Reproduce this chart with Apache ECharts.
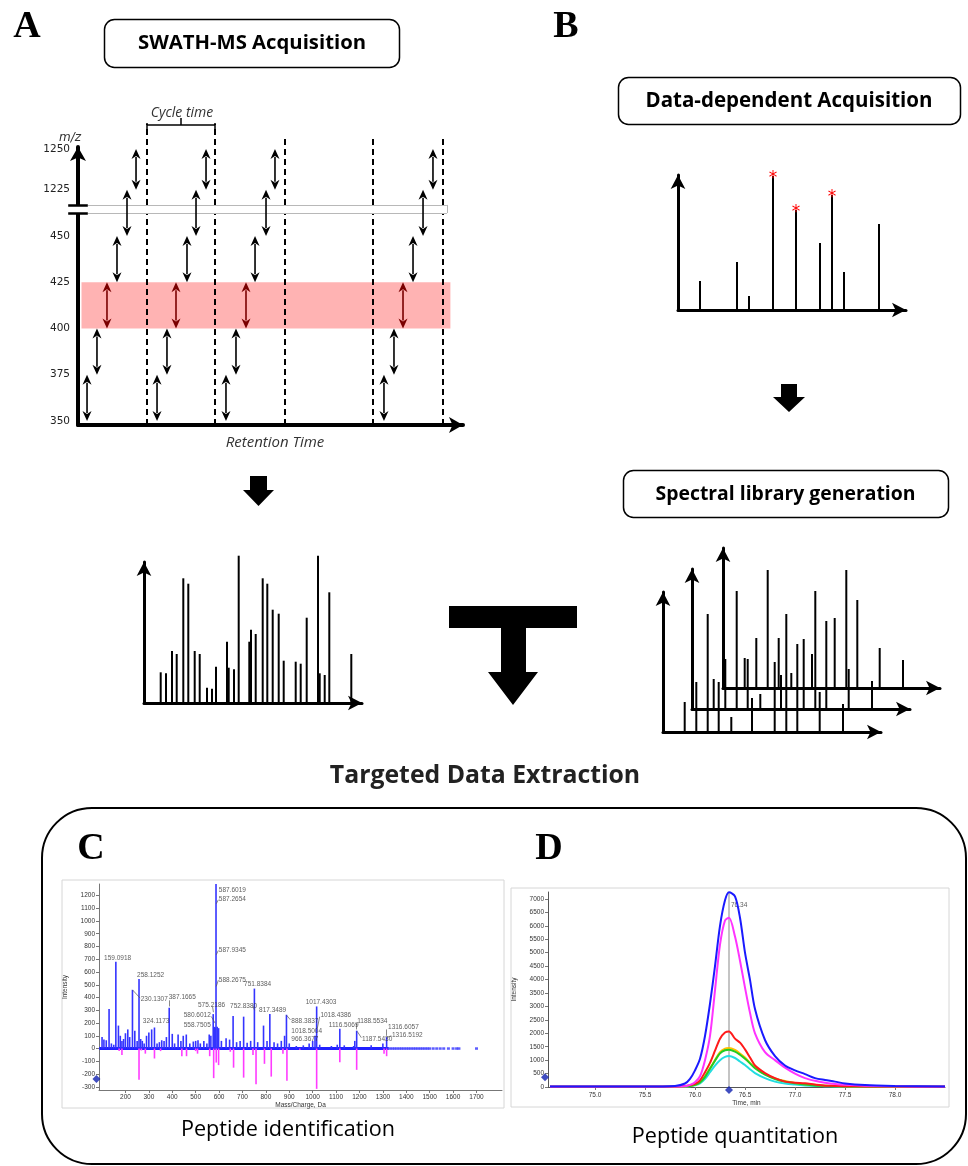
<!DOCTYPE html>
<html><head><meta charset="utf-8">
<script src="https://cdn.jsdelivr.net/npm/echarts@6/dist/echarts.min.js"></script>
<style>html,body{margin:0;padding:0;background:#fff}#chart{width:968px;height:1166px}</style>
</head><body><div id="chart"></div>
<script>
// ---------------- Panel A : SWATH-MS acquisition ----------------
const mzTickValues = [350, 375, 400, 425, 450, 475, 497];          // axis positions (broken m/z axis)
const mzTickLabels = ['350', '375', '400', '425', '450', '1225', '1250'];
const swathWindows = [[350, 375], [375, 400], [400, 425], [425, 450], [450, 475], [475, 497]];
const highlightedWindow = 2;
const swathScanTimes = [
  [0.129, 0.271, 0.414, 0.557, 0.700, 0.829],
  [1.129, 1.271, 1.400, 1.557, 1.686, 1.829],
  [2.114, 2.257, 2.400, 2.529, 2.686, 2.814],
  [4.371, 4.514, 4.643, 4.786, 4.929, 5.071]
];
const cycleBoundaries = [0.986, 1.957, 2.957, 4.214, 5.214];
const cycleBoundaryTops = [511, 511, 503.5, 503.5, 503.5];
const axisBreak = [462.4, 466.8];

// ---------------- Panel B : DDA spectrum ----------------
const ddaMz = [22, 59, 71, 95, 118, 142, 154, 166, 201];
const ddaIntensity = [29, 48, 14, 134, 100, 67, 115, 38, 86];
const ddaSelected = [0, 0, 0, 1, 1, 0, 1, 0, 0];

// ---------------- SWATH MS/MS spectrum ----------------
const swathMz = [16.7, 22, 28, 32.7, 39.3, 44.3, 50.7, 55.7, 63, 68, 72, 83, 84.7, 90, 94.7, 105.3, 107, 111.7, 118.7, 123.3, 128.7, 134.7, 139.7, 151.7, 156.7, 162.7, 174, 175.7, 180.7, 185.3, 207.3];
const swathIntensity = [30.7, 29.7, 52, 49, 124.7, 119.3, 52, 49, 15.3, 14.3, 36.3, 61.3, 35.3, 33.7, 147.3, 61.3, 73.3, 69, 124.7, 119.3, 93.3, 89.3, 42.3, 41.3, 39.3, 85.3, 147.3, 29.7, 28, 110.7, 49];

// ---------------- Spectral library (3 stacked spectra) ----------------
const libMz = [21.7, 33.3, 44.7, 55.7, 68.3, 89, 111.7, 123.3, 134.3, 156.7, 180];
const libIntensity = [30, 50, 118, 50, 15, 34, 70, 118, 88, 40, 28];

// ---------------- Panel C : peptide identification ----------------
const cTickMz = [200, 300, 400, 500, 600, 700, 800, 900, 1000, 1100, 1200, 1300, 1400, 1500, 1600, 1700];
const cTickInt = [-300, -200, -100, 0, 100, 200, 300, 400, 500, 600, 700, 800, 900, 1000, 1100, 1200];
const cSampleMz = [100, 108, 118, 130, 140, 150, 159, 170, 178, 185, 192, 200, 210, 218, 230, 240, 250, 258, 265, 272, 280, 290, 300, 312, 324, 335, 345, 355, 365, 375, 387, 400, 410, 425, 437, 447, 460, 475, 490, 500, 510, 520, 535, 548, 558, 565, 575, 580, 584, 587, 592, 598, 610, 630, 645, 660, 675, 690, 705, 720, 735, 751, 765, 790, 805, 817, 835, 850, 866, 880, 888, 900, 930, 960, 985, 1000, 1010, 1017, 1030, 1080, 1105, 1116, 1135, 1175, 1180, 1188, 1250, 1300, 1316];
const cSampleInt = [90, 70, 65, 310, 40, 30, 680, 180, 100, 60, 75, 120, 150, 90, 460, 140, 60, 545, 75, 60, 40, 100, 125, 150, 165, 40, 50, 65, 60, 90, 320, 115, 40, 110, 60, 100, 110, 40, 55, 60, 65, 40, 60, 40, 110, 100, 270, 170, 165, 1290, 170, 160, 60, 80, 70, 255, 50, 60, 250, 45, 60, 470, 50, 180, 60, 270, 50, 40, 60, 100, 265, 40, 20, 25, 40, 60, 100, 330, 30, 20, 30, 155, 25, 20, 60, 140, 25, 40, 90];
const cLibraryMz = [173, 185, 258, 268, 285, 324, 350, 441, 461, 500, 508, 560, 577, 588, 598, 648, 662, 705, 745, 758, 794, 823, 873, 890, 945, 1017, 1116, 1188, 1305, 1316];
const cLibraryInt = [-20, -50, -245, -15, -40, -78, -20, -60, -60, -20, -40, -60, -232, -110, -130, -25, -150, -228, -50, -279, -120, -220, -40, -253, -10, -316, -107, -167, -40, -60];
const cTailMz = [1330, 1340, 1350, 1360, 1370, 1380, 1390, 1400, 1410, 1420, 1430, 1440, 1450, 1460, 1470, 1480, 1490, 1500, 1515, 1530, 1545, 1560, 1580, 1600, 1615, 1625, 1700];
const cPeakLabels = [
  ['159.0918', 108.5, 709], ['258.1252', 249.6, 578], ['230.1307', 265, 387], ['387.1665', 385, 400],
  ['324.1173', 274, 212], ['575.2186', 510, 343], ['580.6012', 449, 264], ['558.7505', 449, 180],
  ['587.6019', 599, 1245], ['587.2654', 599, 1174], ['587.9345', 599, 769], ['588.2675', 599, 536],
  ['751.8384', 707, 507], ['752.8380', 647, 335], ['817.3489', 771, 298], ['888.3837', 909, 217],
  ['1017.4303', 970, 361], ['1018.4386', 1033, 259], ['1018.5004', 909, 133], ['966.3677', 909, 76],
  ['1116.5069', 1069, 186], ['1188.5534', 1190, 217], ['1187.5430', 1211, 76], ['1316.6057', 1322, 165],
  ['1316.5192', 1339, 102]
];
const cLeaders = [
  [[230, 460], [263, 395]], [[387, 330], [387, 378]], [[576, 285], [572, 330]], [[583, 199], [567, 251]],
  [[588, 1135], [597, 1166]], [[588, 735], [597, 769]], [[588, 487], [597, 536]], [[752, 300], [745, 330]],
  [[888, 262], [905, 225]], [[1020, 160], [1030, 250]], [[1188, 150], [1188, 200]], [[1190, 135], [1208, 85]],
  [[1316, 100], [1316, 150]], [[1318, 88], [1336, 100]]
];

// ---------------- Panel D : peptide quantitation (XIC) ----------------
const dTicksTime = [75.0, 75.5, 76.0, 76.5, 77.0, 77.5, 78.0];
const dTicksInt = [0, 500, 1000, 1500, 2000, 2500, 3000, 3500, 4000, 4500, 5000, 5500, 6000, 6500, 7000];
const dTime = [74.55, 75.0, 75.5, 75.8, 75.9, 75.95, 76.0, 76.05, 76.1, 76.15, 76.2, 76.25, 76.3, 76.34, 76.4, 76.45, 76.5, 76.55, 76.6, 76.7, 76.8, 76.9, 77.0, 77.1, 77.2, 77.3, 77.4, 77.5, 77.7, 78.0, 78.5];
const dBlue = [20, 20, 20, 40, 130, 300, 620, 1050, 1900, 3100, 4500, 6000, 6950, 7250, 7100, 6300, 5000, 3990, 2900, 1750, 1150, 800, 620, 480, 330, 260, 200, 130, 70, 40, 15];
const dMagenta = [20, 20, 20, 20, 30, 80, 180, 400, 1000, 1900, 3600, 5300, 6200, 6300, 5600, 4700, 3700, 2760, 2000, 1300, 1000, 720, 500, 330, 230, 160, 110, 80, 45, 30, 15];
const dRed = [10, 10, 10, 15, 40, 70, 120, 250, 550, 900, 1350, 1800, 2030, 2070, 1800, 1650, 1400, 1100, 800, 520, 330, 200, 160, 140, 90, 50, 40, 30, 20, 15, 10];
const dYellow = [10, 10, 10, 10, 20, 40, 80, 180, 400, 700, 1000, 1300, 1430, 1450, 1380, 1250, 1100, 900, 720, 480, 320, 220, 150, 100, 70, 50, 35, 25, 15, 10, 10];
const dGreen = [15, 15, 15, 15, 20, 40, 80, 170, 380, 680, 980, 1250, 1370, 1390, 1320, 1200, 1050, 880, 700, 460, 300, 200, 140, 90, 60, 45, 30, 25, 20, 15, 15];
const dCyan = [5, 5, 5, 5, 10, 25, 60, 130, 300, 550, 800, 1000, 1120, 1150, 1080, 950, 820, 660, 520, 330, 200, 130, 90, 60, 40, 30, 20, 15, 10, 10, 5];
const dApexTime = 76.34;

// =====================================================================
const chart = echarts.init(document.getElementById('chart'), null, {renderer: 'canvas'});
const tinyFont = '"Liberation Sans", Arial, sans-serif';
const plain = v => String(v);

function arrowAxis(gi, min, max, w, size) {
  return {type: 'value', gridIndex: gi, min, max,
    axisLine: {show: true, onZero: false, symbol: ['none', 'arrow'], symbolSize: size, lineStyle: {color: '#000', width: w}},
    axisTick: {show: false}, axisLabel: {show: false}, splitLine: {show: false}};
}
const pair = (xs, ys) => xs.map((x, i) => [x, ys[i]]);

const grids = [
  {left: 78, top: 147, width: 385, height: 278},   // 0 A
  {left: 678, top: 175, width: 228, height: 135},  // 1 B
  {left: 144, top: 562, width: 218, height: 141},  // 2 SWATH spectrum
  {left: 723, top: 548, width: 217, height: 140},  // 3 library back
  {left: 692, top: 569, width: 218, height: 140},  // 4 library middle
  {left: 663, top: 592, width: 218, height: 140},  // 5 library front
  {left: 99, top: 884, width: 403, height: 206},   // 6 C
  {left: 548, top: 892, width: 397, height: 195}   // 7 D
].map(g => Object.assign({outerBoundsMode: 'none', containLabel: false}, g));

const xAxes = [
  Object.assign(arrowAxis(0, 0, 5.5, 4, [12, 14]), {name: 'Retention Time', nameLocation: 'middle', nameGap: 10,
    nameTextStyle: {fontStyle: 'italic', fontSize: 15, fontFamily: 'Open Sans', color: '#333', padding: [0, 0, 0, 9]}}),
  arrowAxis(1, 0, 228, 3, [11, 14]),
  arrowAxis(2, 0, 218, 3, [11, 14]),
  arrowAxis(3, 0, 217, 3, [11, 14]),
  arrowAxis(4, 0, 218, 3, [11, 14]),
  arrowAxis(5, 0, 218, 3, [11, 14]),
  {type: 'value', gridIndex: 6, min: 87, max: 1809, splitLine: {show: false},
    axisLine: {onZero: false, lineStyle: {color: '#777', width: 1}},
    axisTick: {customValues: cTickMz, length: 3, lineStyle: {color: '#777'}},
    axisLabel: {customValues: cTickMz, formatter: plain, fontSize: 6.5, color: '#333', margin: 4, fontFamily: tinyFont},
    name: 'Mass/Charge, Da', nameLocation: 'middle', nameGap: 12, nameTextStyle: {fontSize: 6.5, color: '#333', fontFamily: tinyFont}},
  {type: 'value', gridIndex: 7, min: 74.53, max: 78.5, splitLine: {show: false},
    axisLine: {onZero: false, lineStyle: {color: '#555', width: 1}},
    axisTick: {customValues: dTicksTime, length: 3, lineStyle: {color: '#777'}},
    axisLabel: {customValues: dTicksTime, fontSize: 6.5, color: '#333', margin: 5, fontFamily: tinyFont, formatter: v => v.toFixed(1)},
    name: 'Time, min', nameLocation: 'middle', nameGap: 13, nameTextStyle: {fontSize: 6.5, color: '#333', fontFamily: tinyFont}}
];
const yAxes = [
  Object.assign(arrowAxis(0, 347.84, 498.1, 4, [12, 14]), {
    axisLabel: {show: true, customValues: mzTickValues, formatter: v => mzTickLabels[mzTickValues.indexOf(v)],
      fontSize: 10.5, color: '#222', margin: 8, fontFamily: 'DejaVu Sans'},
    name: 'm/z', nameLocation: 'end', nameGap: 3,
    nameTextStyle: {fontStyle: 'italic', fontSize: 12, fontFamily: 'DejaVu Sans', color: '#333', align: 'right', padding: [0, -3, 0, 0]}}),
  arrowAxis(1, 0, 135, 3, [11, 14]),
  arrowAxis(2, 0, 141, 3, [11, 14]),
  arrowAxis(3, 0, 140, 3, [11, 14]),
  arrowAxis(4, 0, 140, 3, [11, 14]),
  arrowAxis(5, 0, 140, 3, [11, 14]),
  {type: 'value', gridIndex: 6, min: -325, max: 1290, splitLine: {show: false},
    axisLine: {show: true, onZero: false, lineStyle: {color: '#777', width: 1}},
    axisTick: {show: true, customValues: cTickInt, length: 3, lineStyle: {color: '#777'}},
    axisLabel: {customValues: cTickInt, formatter: plain, fontSize: 6.5, color: '#333', margin: 4, fontFamily: tinyFont},
    name: 'Intensity', nameLocation: 'middle', nameGap: 30, nameRotate: 90, nameTextStyle: {fontSize: 6.5, color: '#333', fontFamily: tinyFont}},
  {type: 'value', gridIndex: 7, min: 0, max: 7260, splitLine: {show: false},
    axisLine: {show: true, onZero: false, lineStyle: {color: '#555', width: 1}},
    axisTick: {show: true, customValues: dTicksInt, length: 3, lineStyle: {color: '#777'}},
    axisLabel: {customValues: dTicksInt, formatter: plain, fontSize: 6.5, color: '#333', margin: 4, fontFamily: tinyFont},
    name: 'Intensity', nameLocation: 'middle', nameGap: 30, nameRotate: 90, nameTextStyle: {fontSize: 6.5, color: '#333', fontFamily: tinyFont}}
];

// ---- Panel A series ----
const arrowData = [];
swathScanTimes.forEach(cyc => cyc.forEach((t, i) => arrowData.push([t, swathWindows[i][0], swathWindows[i][1], i === highlightedWindow ? 1 : 0])));
const yMinA = 347.84;
function renderArrow(params, api) {
  const t = api.value(0), p1 = api.coord([t, api.value(1)]), p2 = api.coord([t, api.value(2)]);
  const c = api.value(3) ? '#7a0000' : '#000';
  const hw = 4.5, hl = 10;
  return {type: 'group', children: [
    {type: 'line', shape: {x1: p1[0], y1: p1[1] - hl + 2, x2: p2[0], y2: p2[1] + hl - 2}, style: {stroke: c, lineWidth: 1.6}},
    {type: 'polygon', shape: {points: [[p2[0], p2[1]], [p2[0] - hw, p2[1] + hl], [p2[0], p2[1] + hl - 3], [p2[0] + hw, p2[1] + hl]]}, style: {fill: c}},
    {type: 'polygon', shape: {points: [[p1[0], p1[1]], [p1[0] - hw, p1[1] - hl], [p1[0], p1[1] - hl + 3], [p1[0] + hw, p1[1] - hl]]}, style: {fill: c}}
  ]};
}
const series = [
  {type: 'line', xAxisIndex: 0, yAxisIndex: 0, data: [], z: 1, silent: true,
    markArea: {silent: true, itemStyle: {color: '#ffb3b3'},
      data: [[{xAxis: 0.05, yAxis: swathWindows[highlightedWindow][0]}, {xAxis: 5.32, yAxis: swathWindows[highlightedWindow][1]}]]}},
  {type: 'lines', coordinateSystem: 'cartesian2d', xAxisIndex: 0, yAxisIndex: 0, clip: false, z: 3, silent: true,
    lineStyle: {color: '#000', width: 2, type: [6, 4], opacity: 1},
    data: cycleBoundaries.map((t, i) => ({coords: [[t, yMinA], [t, cycleBoundaryTops[i]]]}))},
  {type: 'lines', coordinateSystem: 'cartesian2d', xAxisIndex: 0, yAxisIndex: 0, clip: false, z: 3, silent: true,
    lineStyle: {color: '#000', width: 1.5, opacity: 1},
    data: [
      {coords: [[cycleBoundaries[0], 510], [cycleBoundaries[1], 510]]},
      {coords: [[cycleBoundaries[0], 510], [cycleBoundaries[0], 507]]},
      {coords: [[cycleBoundaries[1], 510], [cycleBoundaries[1], 507]]},
      {coords: [[(cycleBoundaries[0] + cycleBoundaries[1]) / 2, 510], [(cycleBoundaries[0] + cycleBoundaries[1]) / 2, 513.8]]}
    ]},
  // axis break band
  {type: 'lines', coordinateSystem: 'cartesian2d', xAxisIndex: 0, yAxisIndex: 0, clip: false, z: 4, silent: true,
    lineStyle: {color: '#fff', width: 8, opacity: 1},
    data: [{coords: [[-0.14, (axisBreak[0] + axisBreak[1]) / 2], [5.27, (axisBreak[0] + axisBreak[1]) / 2]]}]},
  {type: 'lines', coordinateSystem: 'cartesian2d', xAxisIndex: 0, yAxisIndex: 0, clip: false, z: 4, silent: true,
    lineStyle: {color: '#b8b8b8', width: 1, opacity: 1},
    data: [{coords: [[0.14, axisBreak[0]], [5.27, axisBreak[0]]]}, {coords: [[0.14, axisBreak[1]], [5.27, axisBreak[1]]]},
      {coords: [[5.27, axisBreak[0]], [5.27, axisBreak[1]]]}]},
  {type: 'lines', coordinateSystem: 'cartesian2d', xAxisIndex: 0, yAxisIndex: 0, clip: false, z: 4, silent: true,
    lineStyle: {color: '#000', width: 2.5, opacity: 1},
    data: [{coords: [[-0.14, axisBreak[0]], [0.14, axisBreak[0]]]}, {coords: [[-0.14, axisBreak[1]], [0.14, axisBreak[1]]]}]},
  {type: 'custom', xAxisIndex: 0, yAxisIndex: 0, z: 5, silent: true, renderItem: renderArrow,
    encode: {x: 0, y: [1, 2]}, data: arrowData},

  // ---- Panel B ----
  {type: 'bar', xAxisIndex: 1, yAxisIndex: 1, barWidth: 2, itemStyle: {color: '#000'}, silent: true,
    label: {show: false, formatter: '*', position: 'top', distance: -11, color: '#ff0000', fontSize: 17, fontFamily: 'DejaVu Sans'},
    data: ddaMz.map((m, i) => ({value: [m, ddaIntensity[i]], label: {show: ddaSelected[i] === 1}}))},
  // ---- SWATH spectrum ----
  {type: 'bar', xAxisIndex: 2, yAxisIndex: 2, barWidth: 2, clip: false, itemStyle: {color: '#000'}, silent: true,
    data: pair(swathMz, swathIntensity)},
  // ---- Library spectra ----
  {type: 'bar', xAxisIndex: 3, yAxisIndex: 3, barWidth: 2, itemStyle: {color: '#000'}, silent: true, data: pair(libMz, libIntensity)},
  {type: 'bar', xAxisIndex: 4, yAxisIndex: 4, barWidth: 2, itemStyle: {color: '#000'}, silent: true, data: pair(libMz, libIntensity)},
  {type: 'bar', xAxisIndex: 5, yAxisIndex: 5, barWidth: 2, itemStyle: {color: '#000'}, silent: true, data: pair(libMz, libIntensity)},

  // ---- Panel C ----
  {type: 'line', xAxisIndex: 6, yAxisIndex: 6, symbol: 'none', silent: true, lineStyle: {color: '#2020ff', width: 3},
    data: [[88, 0], [1325, 0]], z: 2},
  {type: 'bar', xAxisIndex: 6, yAxisIndex: 6, barWidth: 1.6, barGap: '-100%', itemStyle: {color: '#3434ff'}, silent: true,
    data: pair(cSampleMz, cSampleInt), z: 3},
  {type: 'bar', xAxisIndex: 6, yAxisIndex: 6, barWidth: 1.6, barGap: '-100%', itemStyle: {color: '#ff3cff'}, silent: true,
    data: pair(cLibraryMz, cLibraryInt), z: 3},
  {type: 'scatter', xAxisIndex: 6, yAxisIndex: 6, symbol: 'rect', symbolSize: [3, 2.5], itemStyle: {color: '#3434ff'}, silent: true,
    data: cTailMz.map(m => [m, 0])},
  {type: 'lines', coordinateSystem: 'cartesian2d', xAxisIndex: 6, yAxisIndex: 6, clip: false, silent: true, z: 4,
    lineStyle: {color: '#555', width: 0.7, opacity: 1}, data: cLeaders.map(l => ({coords: l}))},
  {type: 'scatter', xAxisIndex: 6, yAxisIndex: 6, symbolSize: 0, silent: true, z: 5,
    label: {show: true, position: 'right', distance: 0, formatter: '{b}', fontSize: 6.5, color: '#333', fontFamily: tinyFont},
    data: cPeakLabels.map(l => ({name: l[0], value: [l[1], l[2]]}))},
  {type: 'scatter', xAxisIndex: 6, yAxisIndex: 6, symbol: 'diamond', symbolSize: 8, clip: false, silent: true,
    itemStyle: {color: '#1020b0'}, data: [[76, -238]]},

  // ---- Panel D ----
  ...[[dCyan, '#22dde0'], [dYellow, '#ffc000'], [dGreen, '#22cc22'], [dRed, '#ff1a1a'], [dMagenta, '#ff33ff'], [dBlue, '#1a1aff']].map(([v, c], k) => ({
    type: 'line', xAxisIndex: 7, yAxisIndex: 7, smooth: 0.3, symbol: 'none', silent: true, z: 3 + k * 0.01,
    lineStyle: {color: c, width: 2}, data: pair(dTime, v),
    markLine: k === 0 ? {silent: true, symbol: 'none', label: {show: false}, lineStyle: {color: '#c4c4c4', width: 2, type: 'solid'},
      data: [{xAxis: dApexTime}], z: 1} : undefined
  })),
  {type: 'scatter', xAxisIndex: 7, yAxisIndex: 7, symbolSize: 0, silent: true,
    label: {show: true, position: 'right', distance: 2, offset: [0, 13], formatter: '{b}', fontSize: 6.5, color: '#333', fontFamily: tinyFont},
    data: [{name: dApexTime.toFixed(2), value: [dApexTime, 7250]}]},
  {type: 'scatter', xAxisIndex: 7, yAxisIndex: 7, symbol: 'diamond', symbolSize: 8, clip: false, silent: true,
    itemStyle: {color: '#1020b0'}, data: [[74.5, 364], [dApexTime, -110]]}
];

const box = (x, y, w, h) => ({type: 'rect', shape: {x, y, width: w, height: h, r: 10}, style: {fill: '#fff', stroke: '#000', lineWidth: 1.5}});
const txt = (x, y, text, font, fill) => ({type: 'text', x, y, style: {text, font, fill: fill || '#000', textAlign: 'center', textVerticalAlign: 'middle'}});
const graphics = [
  {type: 'rect', z: -1, shape: {x: 62, y: 880, width: 442, height: 228}, style: {fill: '#fff', stroke: '#d6d6d6', lineWidth: 1}},
  {type: 'rect', z: -1, shape: {x: 511, y: 888, width: 438, height: 219}, style: {fill: '#fff', stroke: '#d6d6d6', lineWidth: 1}},
  {type: 'rect', shape: {x: 42, y: 808, width: 924, height: 356, r: 50}, style: {fill: 'none', stroke: '#000', lineWidth: 2}},
  txt(27, 27, 'A', 'bold 38px "Liberation Serif"'),
  txt(566, 27, 'B', 'bold 38px "Liberation Serif"'),
  txt(91, 849, 'C', 'bold 38px "Liberation Serif"'),
  txt(549, 849, 'D', 'bold 38px "Liberation Serif"'),
  box(104.5, 19.5, 295, 48), txt(252, 43, 'SWATH-MS Acquisition', 'bold 20.3px "Open Sans"'),
  box(618.5, 77.5, 342, 47), txt(789, 101, 'Data-dependent Acquisition', 'bold 20.5px "Open Sans"'),
  box(623.5, 470.5, 325, 47), txt(785.5, 494, 'Spectral library generation', 'bold 19.4px "Open Sans"'),
  txt(182, 113, 'Cycle time', 'italic 14px "Open Sans"', '#333'),
  txt(485, 776, 'Targeted Data Extraction', 'bold 24.8px "Open Sans"', '#222'),
  txt(288, 1130, 'Peptide identification', '21.6px "Open Sans"'),
  txt(735, 1137, 'Peptide quantitation', '21.6px "Open Sans"'),
  {type: 'polygon', shape: {points: [[250, 476], [267, 476], [267, 490], [274, 490], [258.5, 506], [243, 490], [250, 490]]}, style: {fill: '#000'}},
  {type: 'polygon', shape: {points: [[781, 384], [797, 384], [797, 397], [805, 397], [789, 412], [773, 397], [781, 397]]}, style: {fill: '#000'}},
  {type: 'polygon', shape: {points: [[449, 606], [577, 606], [577, 628], [526, 628], [526, 672], [538, 672], [513, 705], [488, 672], [501, 672], [501, 628], [449, 628]]}, style: {fill: '#000'}}
];

chart.setOption({
  animation: false,
  backgroundColor: '#fff',
  grid: grids, xAxis: xAxes, yAxis: yAxes, series,
  graphic: {elements: graphics}
});
</script></body></html>
